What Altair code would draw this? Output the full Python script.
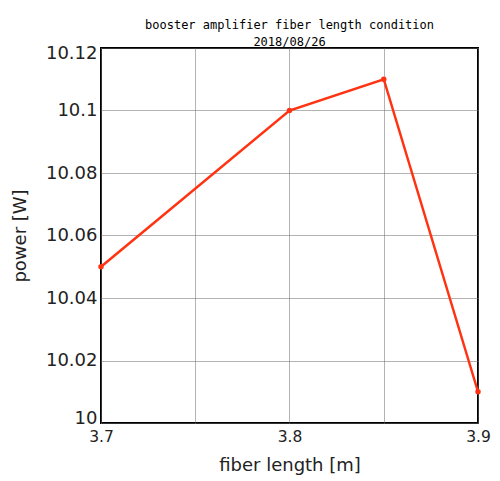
import altair as alt
import pandas as pd

fiber_length = [3.7, 3.8, 3.85, 3.9]
power = [10.05, 10.1, 10.11, 10.01]
x_ticks = [3.7, 3.75, 3.8, 3.85, 3.9]
y_ticks = [10.0, 10.02, 10.04, 10.06, 10.08, 10.1, 10.12]

df = pd.DataFrame({"fiber_length": fiber_length, "power": power})

FONT = "DejaVu Sans"
COLOR = "#ff3311"

x = alt.X("fiber_length:Q",
          scale=alt.Scale(domain=[3.7, 3.9], nice=False, zero=False),
          axis=alt.Axis(title="fiber length [m]", values=x_ticks,
                        labelExpr="abs(round(datum.value*20))%2==0 ? format(datum.value,'.1f') : ''",
                        grid=True, gridDash=[1, 1], gridColor="#666666", gridOpacity=1,
                        ticks=False, labelFontSize=15.5, labelPadding=6, labelFlush=False,
                        titleFontSize=18, titleFontWeight="normal", titlePadding=12,
                        labelFont=FONT, titleFont=FONT, domain=False, labelColor="#222",
                        titleColor="#222"))
y = alt.Y("power:Q",
          scale=alt.Scale(domain=[10.0, 10.12], nice=False, zero=False),
          axis=alt.Axis(title="power [W]", values=y_ticks,
                        labelExpr="format(datum.value,'~g')",
                        grid=True, gridDash=[1, 1], gridColor="#666666", gridOpacity=1,
                        ticks=False, labelFontSize=18, labelPadding=4,
                        labelFlush=True, labelFlushOffset=4,
                        titleFontSize=18, titleFontWeight="normal", titlePadding=16,
                        labelFont=FONT, titleFont=FONT, domain=False, labelColor="#222",
                        titleColor="#222"))

line = alt.Chart(df).mark_line(color=COLOR, strokeWidth=2.5).encode(x=x, y=y)
pts = alt.Chart(df).mark_circle(color=COLOR, size=30, opacity=1).encode(x=x, y=y)

chart = (line + pts).properties(
    width=377, height=375,
    title=alt.TitleParams(["booster amplifier fiber length condition", "2018/08/26"],
                          font="DejaVu Sans Mono", fontSize=12, fontWeight="normal",
                          anchor="middle", offset=-5, lineHeight=17, color="#000"),
    autosize=alt.AutoSizeParams(type="none"),
    padding={"left": 93, "top": 40, "right": 14, "bottom": 58},
).configure_view(stroke="#000", strokeWidth=2)

chart.save("out.html", embed_options={"renderer": "svg", "actions": False})
